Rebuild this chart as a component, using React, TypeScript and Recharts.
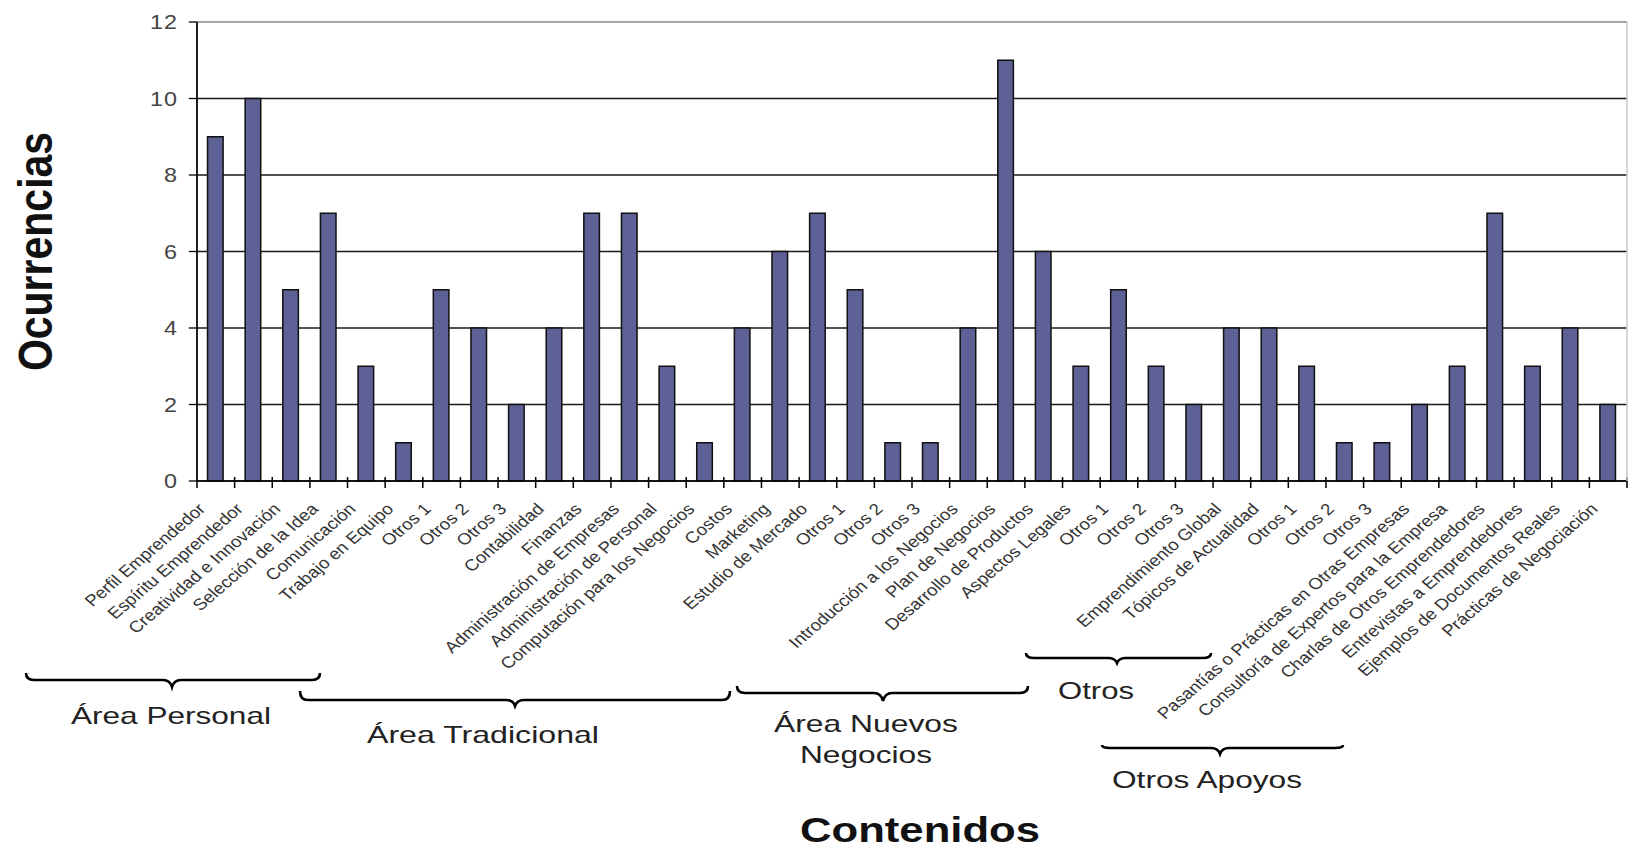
import React from 'react';
import { BarChart, Bar, XAxis, YAxis, CartesianGrid, ReferenceLine } from 'recharts';

const categories: string[] = [
  'Perfil Emprendedor', 'Espíritu Emprendedor', 'Creatividad e Innovación', 'Selección de la Idea',
  'Comunicación', 'Trabajo en Equipo', 'Otros 1', 'Otros 2', 'Otros 3',
  'Contabilidad', 'Finanzas', 'Administración de Empresas', 'Administración de Personal',
  'Computación para los Negocios', 'Costos', 'Marketing', 'Estudio de Mercado', 'Otros 1', 'Otros 2', 'Otros 3',
  'Introducción a los Negocios', 'Plan de Negocios', 'Desarrollo de Productos', 'Aspectos Legales',
  'Otros 1', 'Otros 2', 'Otros 3',
  'Emprendimiento Global', 'Tópicos de Actualidad', 'Otros 1', 'Otros 2', 'Otros 3',
  'Pasantías o Prácticas en Otras Empresas', 'Consultoría de Expertos para la Empresa',
  'Charlas de Otros Emprendedores', 'Entrevistas a Emprendedores', 'Ejemplos de Documentos Reales',
  'Prácticas de Negociación',
];

const ocurrencias: number[] = [
  9, 10, 5, 7, 3, 1, 5, 4, 2,
  4, 7, 7, 3, 1, 4, 6, 7, 5, 1, 1,
  4, 11, 6, 3, 5, 3, 2,
  4, 4, 3, 1, 1,
  2, 3, 7, 3, 4, 2,
];

const yTicks: number[] = [0, 2, 4, 6, 8, 10, 12];

const groupLabels: string[] = ['Área Personal', 'Área Tradicional', 'Área Nuevos', 'Negocios', 'Otros', 'Otros Apoyos'];
const yTitle = 'Ocurrencias';
const xTitle = 'Contenidos';

const data = categories.map((c, i) => ({ id: String(i), name: c, value: ocurrencias[i] }));

// geometry
const S = 1.17; // horizontal stretch of the reference
const CHART_W = 1392;
const CHART_H = 857;
const PLOT_LEFT = 197 / S;
const PLOT_RIGHT = 1627 / S;
const PLOT_TOP = 22;
const PLOT_BOTTOM = 481;
const Y_AXIS_W = 60;
const BAND = (PLOT_RIGHT - PLOT_LEFT) / categories.length;
const FONT = '"Liberation Sans", Arial, Helvetica, sans-serif';

const XTick = (props: any) => {
  const { x, index } = props;
  const label = categories[index];
  const bx = x + BAND / 2;
  const ax = x - 8;
  const ay = PLOT_BOTTOM + 29;
  return (
    <g>
      <line x1={bx} x2={bx} y1={PLOT_BOTTOM - 4} y2={PLOT_BOTTOM + 7} stroke="#000" strokeWidth={1.3} />
      {index === 0 && (
        <line x1={x - BAND / 2} x2={x - BAND / 2} y1={PLOT_BOTTOM} y2={PLOT_BOTTOM + 7} stroke="#000" strokeWidth={1.3} />
      )}
      <text
        x={ax}
        y={ay}
        transform={`rotate(-45, ${ax}, ${ay})`}
        textAnchor="end"
        fontSize={16}
        fontFamily={FONT}
        fill="#333"
      >
        {label}
      </text>
    </g>
  );
};

const YTitle = () => {
  const x = 52 / S;
  const y = (PLOT_TOP + PLOT_BOTTOM) / 2;
  return (
    <text
      x={x}
      y={y}
      transform={`rotate(-90, ${x}, ${y})`}
      textAnchor="middle"
      fontSize={41}
      fontWeight="bold"
      fontFamily={FONT}
      fill="#111"
    >
      {yTitle}
    </text>
  );
};

const bracePath = (x0: number, x1: number, y: number, mid: number, curl: number, notch: number) => {
  return [
    `M ${x0} ${y - curl}`,
    `Q ${x0} ${y} ${x0 + 8} ${y}`,
    `L ${mid - 9} ${y}`,
    `Q ${mid - 2} ${y} ${mid} ${y + notch}`,
    `Q ${mid + 2} ${y} ${mid + 9} ${y}`,
    `L ${x1 - 8} ${y}`,
    `Q ${x1} ${y} ${x1} ${y - curl}`,
  ].join(' ');
};

export default function App() {
  return (
    <div
      style={{
        position: 'fixed',
        left: 0,
        top: 0,
        width: 1628,
        height: 857,
        overflow: 'hidden',
        background: '#fff',
      }}
    >
      <div style={{ width: CHART_W, height: CHART_H, transform: `scaleX(${S})`, transformOrigin: '0 0' }}>
        <BarChart
          width={CHART_W}
          height={CHART_H}
          data={data}
          margin={{ top: PLOT_TOP, right: CHART_W - PLOT_RIGHT, left: PLOT_LEFT - Y_AXIS_W, bottom: 0 }}
        >
          <CartesianGrid vertical={false} stroke="#1a1a1a" strokeWidth={1.4} />
          <ReferenceLine y={12} stroke="#c4c4c4" strokeWidth={1.5} />
          <XAxis
            dataKey="id"
            interval={0}
            height={CHART_H - PLOT_BOTTOM}
            axisLine={{ stroke: '#000', strokeWidth: 1.5 }}
            tickLine={false}
            tick={<XTick />}
          />
          <YAxis
            width={Y_AXIS_W}
            domain={[0, 12]}
            ticks={yTicks}
            interval={0}
            axisLine={{ stroke: '#000', strokeWidth: 1.5 }}
            tickLine={{ stroke: '#000', strokeWidth: 1.3 }}
            tickSize={7}
            tickMargin={9}
            tick={{ fontSize: 20, fill: '#444', fontFamily: FONT, letterSpacing: 1 }}
            label={<YTitle />}
          />
          <Bar
            dataKey="value"
            barSize={13.3}
            fill="#5D6196"
            stroke="#111"
            strokeWidth={1.3}
            isAnimationActive={false}
          />
        </BarChart>
      </div>
      <svg
        width={1628}
        height={857}
        style={{ position: 'absolute', left: 0, top: 0, pointerEvents: 'none' }}
      >
        <line x1={1627} x2={1627} y1={PLOT_TOP} y2={PLOT_BOTTOM} stroke="#c8c8c8" strokeWidth={1.5} />
        <g fill="none" stroke="#000" strokeWidth={2.6}>
          <path d={bracePath(26, 320, 680, 172, 7, 7)} />
          <path d={bracePath(300, 730, 700, 515, 9, 6)} />
          <path d={bracePath(737, 1028, 693, 883, 7, 8)} />
          <path d={bracePath(1026, 1211, 658, 1117, 5, 5)} />
          <path d={bracePath(1102, 1343, 748, 1220, 3, 6)} />
        </g>
        <g fontFamily={FONT} fill="#222" fontSize={24}>
          <text x={71} y={724} textLength={200} lengthAdjust="spacingAndGlyphs">{groupLabels[0]}</text>
          <text x={367} y={743} textLength={232} lengthAdjust="spacingAndGlyphs">{groupLabels[1]}</text>
          <text x={774} y={732} textLength={184} lengthAdjust="spacingAndGlyphs">{groupLabels[2]}</text>
          <text x={800} y={763} textLength={132} lengthAdjust="spacingAndGlyphs">{groupLabels[3]}</text>
          <text x={1058} y={699} textLength={76} lengthAdjust="spacingAndGlyphs">{groupLabels[4]}</text>
          <text x={1112} y={788} textLength={190} lengthAdjust="spacingAndGlyphs">{groupLabels[5]}</text>
        </g>
        <text
          x={800}
          y={842}
          fontFamily={FONT}
          fontWeight="bold"
          fontSize={35}
          fill="#111"
          textLength={240}
          lengthAdjust="spacingAndGlyphs"
        >
          {xTitle}
        </text>
      </svg>
    </div>
  );
}
